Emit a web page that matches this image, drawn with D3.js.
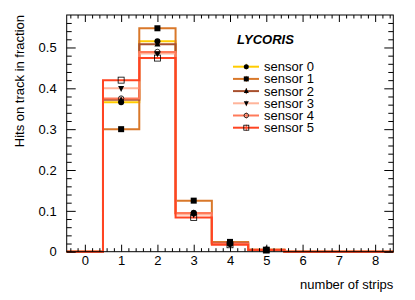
<!DOCTYPE html>
<html>
<head>
<meta charset="utf-8">
<script src="https://cdn.jsdelivr.net/npm/d3@7"></script>
<style>
    body { margin: 0; background: #fff; }
    svg { display: block; font-family: "Liberation Sans", Arial, sans-serif; }
</style>
</head>
<body>
<div id="chart"></div>
<script>
    "use strict";
    // bin centres: number of strips
    var strips = [0, 1, 2, 3, 4, 5, 6, 7, 8];
    var sensor0 = [0, 0.366, 0.515, 0.095, 0.019, 0.005, 0, 0, 0];
    var sensor1 = [0, 0.300, 0.547, 0.125, 0.024, 0.004, 0, 0, 0];
    var sensor2 = [0, 0.372, 0.508, 0.094, 0.021, 0.005, 0, 0, 0];
    var sensor3 = [0, 0.400, 0.485, 0.091, 0.019, 0.005, 0, 0, 0];
    var sensor4 = [0, 0.375, 0.489, 0.095, 0.020, 0.005, 0, 0, 0];
    var sensor5 = [0, 0.420, 0.474, 0.084, 0.017, 0.004, 0, 0, 0];
    var seriesNames = ["sensor 0", "sensor 1", "sensor 2", "sensor 3", "sensor 4", "sensor 5"];
    var yTicks = [0, 0.1, 0.2, 0.3, 0.4, 0.5];

    (function(d3) {
        var allSeries = [sensor0, sensor1, sensor2, sensor3, sensor4, sensor5];
        var colors = ["#ffcc00", "#d9782a", "#a8502e", "#ffb49a", "#ff7a5a", "#ff4422"];
        var markers = ["circle", "square", "triUp", "triDown", "openCircle", "openSquare"];

        var width = 415, height = 300;
        var frameLeft = 66.7, frameRight = 393.3, frameTop = 15, frameBottom = 251.7;

        var x = d3.scaleLinear().domain([-0.5, 8.5]).range([frameLeft, frameRight]);
        var y = d3.scaleLinear().domain([0, 0.5795]).range([frameBottom, frameTop]);

        var svg = d3.select("#chart").append("svg")
            .attr("width", width)
            .attr("height", height);

        // histograms as step outlines
        var hist = svg.append("g").attr("class", "hists");
        allSeries.forEach(function(vals, k) {
            var pts = [];
            vals.forEach(function(v, i) {
                pts.push([x(strips[i] - 0.5), y(v)]);
                pts.push([x(strips[i] + 0.5), y(v)]);
            });
            hist.append("path")
                .attr("d", d3.line()(pts))
                .attr("fill", "none")
                .attr("stroke", colors[k])
                .attr("stroke-width", 2);
        });

        // markers
        function drawMarker(g, type, cx, cy, s) {
            if (type === "circle") {
                g.append("circle").attr("cx", cx).attr("cy", cy).attr("r", s * 0.5).attr("fill", "#000");
            } else if (type === "square") {
                g.append("rect").attr("x", cx - s / 2).attr("y", cy - s / 2).attr("width", s).attr("height", s).attr("fill", "#000");
            } else if (type === "triUp") {
                g.append("path").attr("d", "M" + cx + "," + (cy - s * 0.6) + "L" + (cx + s / 2) + "," + (cy + s * 0.4) + "L" + (cx - s / 2) + "," + (cy + s * 0.4) + "Z").attr("fill", "#000");
            } else if (type === "triDown") {
                g.append("path").attr("d", "M" + cx + "," + (cy + s * 0.6) + "L" + (cx + s / 2) + "," + (cy - s * 0.4) + "L" + (cx - s / 2) + "," + (cy - s * 0.4) + "Z").attr("fill", "#000");
            } else if (type === "openCircle") {
                g.append("circle").attr("cx", cx).attr("cy", cy).attr("r", s * 0.45).attr("fill", "none").attr("stroke", "#000").attr("stroke-width", 0.8);
            } else if (type === "openSquare") {
                g.append("rect").attr("x", cx - s / 2).attr("y", cy - s / 2).attr("width", s).attr("height", s).attr("fill", "none").attr("stroke", "#000").attr("stroke-width", 0.8);
            }
        }

        var marks = svg.append("g").attr("class", "markers");
        allSeries.forEach(function(vals, k) {
            vals.forEach(function(v, i) {
                if (v <= 0) return;
                drawMarker(marks, markers[k], x(strips[i]), y(v), 6);
            });
        });

        // frame
        svg.append("rect")
            .attr("x", frameLeft).attr("y", frameTop)
            .attr("width", frameRight - frameLeft).attr("height", frameBottom - frameTop)
            .attr("fill", "none").attr("stroke", "#000").attr("stroke-width", 1);

        var xMinor = d3.range(-0.4, 8.5, 0.2).filter(function(d) { return Math.abs(d - Math.round(d)) > 0.01; });
        var yMinor = d3.range(0.02, 0.58, 0.02).filter(function(d) { return Math.abs(d * 10 - Math.round(d * 10)) > 0.01; });

        function styleAxis(g) {
            g.select(".domain").remove();
            g.selectAll("line").attr("stroke", "#000");
            g.selectAll("text").attr("fill", "#000").style("font-size", "13px");
        }

        // bottom
        svg.append("g").attr("transform", "translate(0," + frameBottom + ")")
            .call(d3.axisBottom(x).tickValues(strips).tickSize(-7).tickPadding(4).tickFormat(d3.format("d")))
            .call(styleAxis);
        svg.append("g").attr("transform", "translate(0," + frameBottom + ")")
            .call(d3.axisBottom(x).tickValues(xMinor).tickSize(-3.5).tickFormat(""))
            .call(styleAxis);
        // top
        svg.append("g").attr("transform", "translate(0," + frameTop + ")")
            .call(d3.axisTop(x).tickValues(strips).tickSize(-7).tickFormat(""))
            .call(styleAxis);
        svg.append("g").attr("transform", "translate(0," + frameTop + ")")
            .call(d3.axisTop(x).tickValues(xMinor).tickSize(-3.5).tickFormat(""))
            .call(styleAxis);
        // left
        svg.append("g").attr("transform", "translate(" + frameLeft + ",0)")
            .call(d3.axisLeft(y).tickValues(yTicks).tickSize(-9).tickPadding(10)
                .tickFormat(function(d) { return d === 0 ? "0" : d.toFixed(1); }))
            .call(styleAxis);
        svg.append("g").attr("transform", "translate(" + frameLeft + ",0)")
            .call(d3.axisLeft(y).tickValues(yMinor).tickSize(-5).tickFormat(""))
            .call(styleAxis);
        // right
        svg.append("g").attr("transform", "translate(" + frameRight + ",0)")
            .call(d3.axisRight(y).tickValues(yTicks).tickSize(-9).tickFormat(""))
            .call(styleAxis);
        svg.append("g").attr("transform", "translate(" + frameRight + ",0)")
            .call(d3.axisRight(y).tickValues(yMinor).tickSize(-5).tickFormat(""))
            .call(styleAxis);

        // axis titles
        svg.append("text")
            .attr("x", frameRight).attr("y", 289)
            .attr("text-anchor", "end")
            .style("font-size", "13px")
            .text("number of strips");
        svg.append("text")
            .attr("transform", "translate(24," + frameTop + ") rotate(-90)")
            .attr("text-anchor", "end")
            .style("font-size", "13px")
            .text("Hits on track in fraction");

        // legend
        svg.append("text")
            .attr("x", 237).attr("y", 44)
            .style("font-size", "13px")
            .style("font-weight", "bold")
            .style("font-style", "italic")
            .text("LYCORIS");

        var legend = svg.append("g").attr("class", "legend");
        seriesNames.forEach(function(name, k) {
            var ly = 66.7 + k * 12.2;
            legend.append("line")
                .attr("x1", 233).attr("x2", 259)
                .attr("y1", ly).attr("y2", ly)
                .attr("stroke", colors[k]).attr("stroke-width", 2);
            legend.append("line")
                .attr("x1", 246.3).attr("x2", 246.3)
                .attr("y1", ly - 3).attr("y2", ly + 3)
                .attr("stroke", colors[k]).attr("stroke-width", 1);
            drawMarker(legend, markers[k], 246.3, ly, 5);
            legend.append("text")
                .attr("x", 264).attr("y", ly + 4.5)
                .style("font-size", "13px")
                .text(name);
        });
    })(window.d3);
</script>
</body>
</html>
